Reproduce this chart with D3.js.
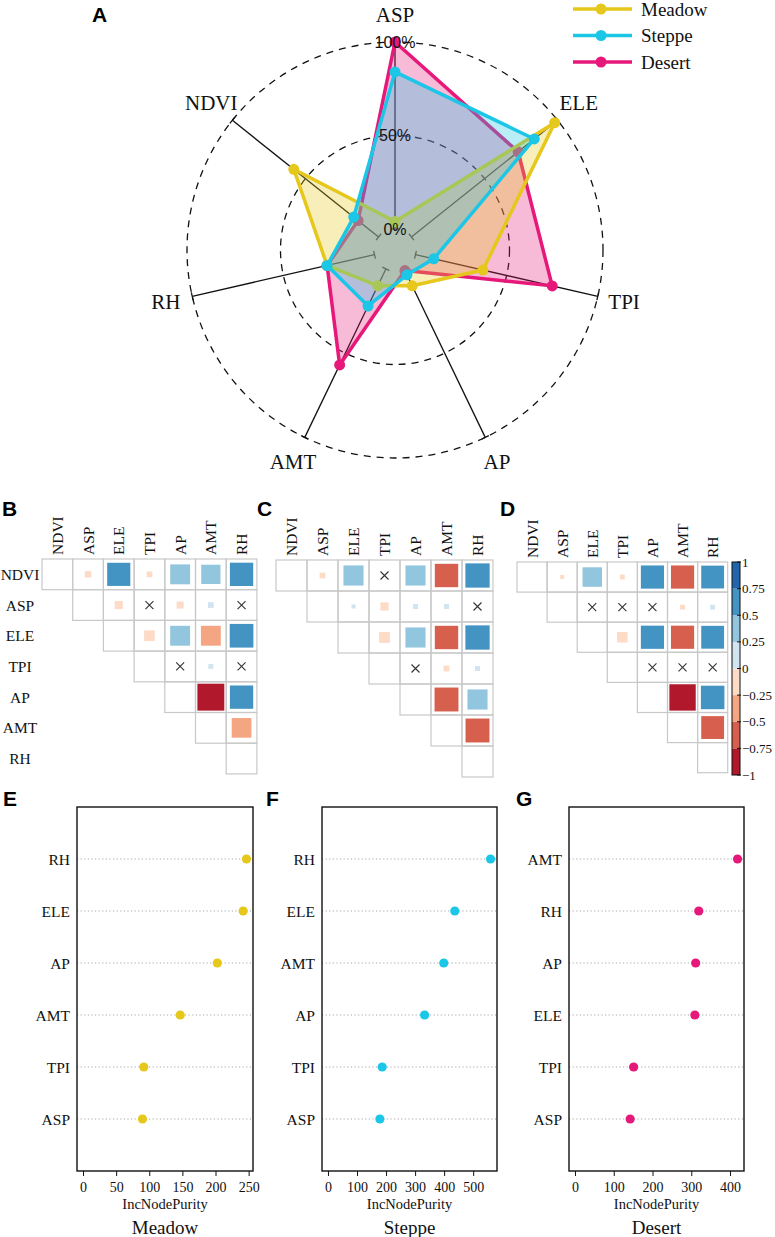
<!DOCTYPE html>
<html><head><meta charset="utf-8">
<script src="https://cdn.jsdelivr.net/npm/d3@7"></script>
<style>body{margin:0;background:#fff} svg{display:block}</style>
</head><body>
<svg id="c" width="775" height="1237"></svg>
<script>
// ---------------- DATA ----------------
const radarAxes = ["ASP","ELE","TPI","AP","AMT","RH","NDVI"];
const radarTickVals = [0, 50, 100];
const radarTickLabels = ["0%", "50%", "100%"];
const meadowRadar = [4, 98, 37, 10, 10, 26, 58];
const steppeRadar = [84, 84, 10, 3.5, 22, 26, 17];
const desertRadar = [100, 73, 75, 1, 57, 26, 14];
const seriesNames = ["Meadow", "Steppe", "Desert"];
const seriesColors = ["#E6C71B", "#1CC6E6", "#E6197A"];

const corrVars = ["NDVI","ASP","ELE","TPI","AP","AMT","RH"];
// upper triangle (row i, columns i+1..6); null = not significant (×)
const corrMeadow = [
  [-0.05, 0.65, -0.04, 0.48, 0.45, 0.66],
  [-0.08, null, -0.06, 0.04, null],
  [-0.14, 0.48, -0.48, 0.68],
  [null, 0.03, null],
  [-0.88, 0.66],
  [-0.47]
];
const corrSteppe = [
  [-0.04, 0.48, null, 0.48, -0.65, 0.7],
  [0.02, -0.08, 0.03, 0.03, null],
  [-0.14, 0.48, -0.65, 0.7],
  [null, -0.04, 0.03],
  [-0.68, 0.48],
  [-0.68]
];
const corrDesert = [
  [-0.02, 0.48, -0.03, 0.68, -0.68, 0.66],
  [null, null, null, -0.03, 0.03],
  [-0.14, 0.68, -0.68, 0.66],
  [null, null, null],
  [-0.88, 0.7],
  [-0.66]
];
const corrBinEdges = [-0.75, -0.5, -0.25, 0, 0.25, 0.5, 0.75];
const corrBinColors = ["#B2182B","#D6604D","#F4A582","#FDDBC7","#D1E5F0","#92C5DE","#4393C3","#2166AC"];
const colorbarTicks = [1, 0.75, 0.5, 0.25, 0, -0.25, -0.5, -0.75, -1];

const impMeadowVars = ["RH","ELE","AP","AMT","TPI","ASP"];
const impMeadowVals = [246, 241, 202, 146, 91, 89];
const impSteppeVars = ["RH","ELE","AMT","AP","TPI","ASP"];
const impSteppeVals = [558, 435, 397, 331, 185, 177];
const impDesertVars = ["AMT","RH","AP","ELE","TPI","ASP"];
const impDesertVals = [418, 318, 310, 308, 150, 141];
const impMeadowTicks = [0, 50, 100, 150, 200, 250];
const impSteppeTicks = [0, 100, 200, 300, 400, 500];
const impDesertTicks = [0, 100, 200, 300, 400];
const impXLabel = "IncNodePurity";

// ---------------- DRAW ----------------
const svg = d3.select("#c");
const serif = "'Liberation Serif','Times New Roman',serif";
const sans = "'Liberation Sans',Arial,sans-serif";

// panel letters
[["A",92,22],["B",2,516],["C",257,516],["D",500,516],["E",3,806],["F",266,806],["G",516,806]]
.forEach(([t,x,y]) => svg.append("text").attr("x",x).attr("y",y).text(t)
  .attr("font-family",sans).attr("font-weight","bold").attr("font-size",21).attr("fill","#000"));

// ---- Radar ----
const cx = 395, cy = 250, r0 = 21, R = 208;
const rs = d3.scaleLinear().domain([0,100]).range([r0,R]);
const ang = d3.scalePoint().domain(radarAxes).range([0, 2*Math.PI*(radarAxes.length-1)/radarAxes.length]);
const rg = svg.append("g").attr("transform",`translate(${cx},${cy})`);

[50,100].forEach(v => rg.append("circle").attr("r", rs(v)).attr("fill","none")
  .attr("stroke","#111").attr("stroke-width",1.3).attr("stroke-dasharray","7,6"));

radarAxes.forEach(a => {
  const t = ang(a), s = Math.sin(t), c = -Math.cos(t);
  const px = -c, py = s;
  rg.append("line").attr("x1",r0*s).attr("y1",r0*c).attr("x2",R*s).attr("y2",R*c)
    .attr("stroke","#111").attr("stroke-width",1.3);
  [r0, R].forEach(r => rg.append("line")
    .attr("x1",r*s+4*px).attr("y1",r*c+4*py).attr("x2",r*s-4*px).attr("y2",r*c-4*py)
    .attr("stroke","#111").attr("stroke-width",1.3));
  const lr = 235;
  rg.append("text").attr("x",lr*s).attr("y",lr*c).text(a)
    .attr("text-anchor","middle").attr("dominant-baseline","central")
    .attr("font-family",serif).attr("font-size",21).attr("fill","#111");
});

const radarSeries = [
  {vals: desertRadar, col: seriesColors[2]},
  {vals: meadowRadar, col: seriesColors[0]},
  {vals: steppeRadar, col: seriesColors[1]}
];
const radial = d3.lineRadial().angle((d,i)=>ang(radarAxes[i])).radius(d=>rs(d)).curve(d3.curveLinearClosed);
radarSeries.forEach(sr => {
  const gg = rg.append("g");
  gg.append("path").attr("d", radial(sr.vals)).attr("fill", sr.col).attr("fill-opacity",0.3)
    .attr("stroke", sr.col).attr("stroke-width",3.5).attr("stroke-linejoin","round");
  sr.vals.forEach((v,i) => {
    const t = ang(radarAxes[i]);
    gg.append("circle").attr("cx", rs(v)*Math.sin(t)).attr("cy", -rs(v)*Math.cos(t))
      .attr("r",5.5).attr("fill", sr.col);
  });
});

radarTickVals.forEach((v,i) => rg.append("text").attr("x",0).attr("y",-rs(v)).text(radarTickLabels[i])
  .attr("text-anchor","middle").attr("dominant-baseline","central")
  .attr("font-family",sans).attr("font-size",16).attr("fill","#111"));

// legend
seriesNames.forEach((n,i) => {
  const y = 9 + i*26.5;
  svg.append("line").attr("x1",573).attr("x2",632).attr("y1",y).attr("y2",y)
    .attr("stroke",seriesColors[i]).attr("stroke-width",3.5);
  svg.append("circle").attr("cx",601).attr("cy",y).attr("r",5.5).attr("fill",seriesColors[i]);
  svg.append("text").attr("x",641).attr("y",y).text(n).attr("dominant-baseline","central")
    .attr("font-family",serif).attr("font-size",19).attr("fill","#111");
});

// ---- Correlation matrices ----
const corrColor = d3.scaleThreshold().domain(corrBinEdges).range(corrBinColors);
function corrPanel(mat, x0, y0, cs, rowLabels) {
  const g = svg.append("g");
  const pos = d3.scaleBand().domain(corrVars).range([0, cs*corrVars.length]);
  corrVars.forEach((v,j) => {
    g.append("text").attr("transform",`translate(${x0+pos(v)+cs/2},${y0-4}) rotate(-90)`)
      .text(v).attr("dominant-baseline","central")
      .attr("font-family",serif).attr("font-size",15.5).attr("fill","#111");
  });
  if (rowLabels) corrVars.forEach(v => g.append("text").attr("x",20).attr("y",y0+pos(v)+cs/2)
      .text(v).attr("text-anchor","middle").attr("dominant-baseline","central")
      .attr("font-family",serif).attr("font-size",15.5).attr("fill","#111"));
  corrVars.forEach((rv,i) => {
    corrVars.forEach((cv,j) => {
      if (j < i) return;
      const x = x0+pos(cv), y = y0+pos(rv);
      g.append("rect").attr("x",x).attr("y",y).attr("width",cs).attr("height",cs)
        .attr("fill","none").attr("stroke","#C8C8C8").attr("stroke-width",1.2);
      if (j === i) return;
      const val = mat[i][j-i-1];
      const mx = x+cs/2, my = y+cs/2;
      if (val === null) {
        g.append("path").attr("d",`M${mx-4},${my-4}L${mx+4},${my+4}M${mx+4},${my-4}L${mx-4},${my+4}`)
          .attr("stroke","#333").attr("stroke-width",1.1);
      } else {
        const side = Math.sqrt(Math.abs(val))*(cs-2);
        g.append("rect").attr("x",mx-side/2).attr("y",my-side/2).attr("width",side).attr("height",side)
          .attr("fill",corrColor(val));
      }
    });
  });
}
corrPanel(corrMeadow, 42, 559, 30.7, true);
corrPanel(corrSteppe, 276, 560, 31, false);
corrPanel(corrDesert, 517, 562, 30.1, false);

// colorbar
const cbY = d3.scaleLinear().domain([-1,1]).range([775,562]);
const cbEdges = [-1].concat(corrBinEdges).concat([1]);
corrBinColors.forEach((c,k) => {
  svg.append("rect").attr("x",732).attr("width",8).attr("y",cbY(cbEdges[k+1]))
    .attr("height",cbY(cbEdges[k])-cbY(cbEdges[k+1])).attr("fill",c);
});
svg.append("rect").attr("x",732).attr("width",8).attr("y",562).attr("height",213)
  .attr("fill","none").attr("stroke","#111").attr("stroke-width",1);
colorbarTicks.forEach(t => {
  svg.append("line").attr("x1",737).attr("x2",741).attr("y1",cbY(t)).attr("y2",cbY(t))
    .attr("stroke","#111").attr("stroke-width",1);
  svg.append("text").attr("x",742).attr("y",cbY(t)).text(t < 0 ? "\u2212" + Math.abs(t) : String(t))
    .attr("dominant-baseline","central").attr("font-family",serif).attr("font-size",13).attr("fill","#111");
});

// ---- Importance dot plots ----
function dotPanel(names, vals, ticks, box, col, title) {
  const mx = d3.max(vals);
  const x = d3.scaleLinear().domain([-0.04*mx, 1.04*mx]).range([box.l, box.r]);
  const y = d3.scalePoint().domain(names).range([box.t, box.b]).padding(1);
  const g = svg.append("g");
  names.forEach((n,i) => {
    g.append("line").attr("x1",box.l).attr("x2",box.r).attr("y1",y(n)).attr("y2",y(n))
      .attr("stroke","#A8A8A8").attr("stroke-width",1).attr("stroke-dasharray","1.2,2.4");
    g.append("text").attr("x",box.l-7).attr("y",y(n)).text(n).attr("text-anchor","end")
      .attr("dominant-baseline","central").attr("font-family",serif).attr("font-size",15.5).attr("fill","#111");
    g.append("circle").attr("cx",x(vals[i])).attr("cy",y(n)).attr("r",4.6).attr("fill",col);
  });
  g.append("rect").attr("x",box.l).attr("y",box.t).attr("width",box.r-box.l).attr("height",box.b-box.t)
    .attr("fill","none").attr("stroke","#111").attr("stroke-width",1.4);
  ticks.forEach(t => {
    g.append("line").attr("x1",x(t)).attr("x2",x(t)).attr("y1",box.b).attr("y2",box.b+5)
      .attr("stroke","#111").attr("stroke-width",1);
    g.append("text").attr("x",x(t)).attr("y",box.b+16).text(t).attr("text-anchor","middle")
      .attr("dominant-baseline","central").attr("font-family",serif).attr("font-size",14).attr("fill","#111");
  });
  const c = (box.l+box.r)/2;
  g.append("text").attr("x",c).attr("y",box.b+33).text(impXLabel).attr("text-anchor","middle")
    .attr("dominant-baseline","central").attr("font-family",serif).attr("font-size",14.5).attr("fill","#111");
  g.append("text").attr("x",c).attr("y",box.b+56).text(title).attr("text-anchor","middle")
    .attr("dominant-baseline","central").attr("font-family",serif).attr("font-size",19).attr("fill","#111");
}
dotPanel(impMeadowVars, impMeadowVals, impMeadowTicks, {l:77,r:253,t:807,b:1171}, seriesColors[0], seriesNames[0]);
dotPanel(impSteppeVars, impSteppeVals, impSteppeTicks, {l:322,r:497,t:807,b:1171}, seriesColors[1], seriesNames[1]);
dotPanel(impDesertVars, impDesertVals, impDesertTicks, {l:569,r:744,t:807,b:1171}, seriesColors[2], seriesNames[2]);
</script>
</body></html>
